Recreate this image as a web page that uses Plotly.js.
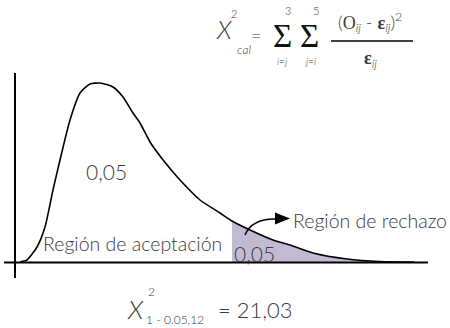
<!DOCTYPE html>
<html>
<head>
<meta charset="utf-8">
<script src="https://cdn.plot.ly/plotly-3.0.1.min.js"></script>
<style>html,body{margin:0;padding:0;background:#fff}#chart{width:450px;height:328px}</style>
</head>
<body>
<div id="chart"></div>
<script>
// density curve (x along the axis, y = height above it)
var curveX = [6, 13, 23, 31, 39, 46, 56, 66, 76, 86, 99, 109, 119, 126, 136, 146, 159, 166, 186, 206, 218, 236, 259, 276, 299, 333, 366, 400];
var curveY = [0, 2, 15, 35, 72, 102, 142, 169, 178, 179, 175, 165, 149, 139, 120, 106, 90, 82, 62, 49, 41, 32, 22, 17, 9, 3, 0.5, 0];
var critX = 218;   // where the rejection region starts
var alphaLabel = "0,05";
var accLabel = "Región de aceptación";
var rejLabel = "Región de rechazo";
var critValue = "21,03";
var critSub = "1 - 0.05,12";

// pixel helpers (axis ranges are chosen so 1 unit = 1 px)
function px(x) { return x - 14; }
function py(y) { return 262 - y; }

var SANS = "Lato, Open Sans, sans-serif";
var SERIF = "Liberation Serif, DejaVu Serif, serif";
var INK = "#3a3a3a";

var tailX = [], tailY = [];
for (var i = 0; i < curveX.length; i++) {
  if (curveX[i] >= critX) { tailX.push(curveX[i]); tailY.push(curveY[i]); }
}

var data = [
  {x: tailX, y: tailY, mode: "lines", type: "scatter", fill: "tozeroy",
   fillcolor: "#c2bad3", line: {width: 0, shape: "spline"}, hoverinfo: "skip"},
  {x: curveX, y: curveY, mode: "lines", type: "scatter",
   line: {color: "#000", width: 1.6, shape: "spline", smoothing: 0.6}, hoverinfo: "skip"}
];

function note(text, x, y, size, family, anchor, color) {
  return {text: text, x: px(x), y: py(y), xref: "x", yref: "y", showarrow: false,
    font: {family: family || SANS, size: size, color: color || INK, weight: 300},
    xanchor: anchor || "center", yanchor: "middle"};
}

function serif(t) { return '<span style="font-family:' + SERIF + '">' + t + '</span>'; }

var annotations = [
  note(alphaLabel, 106, 171, 21),
  note(accLabel, 132, 243, 19.5),
  note(alphaLabel, 254, 253, 21),
  note(rejLabel, 291, 220, 19.5, null, "left"),

  // top formula
  note("<i>X</i>", 224, 29, 25),
  note("2", 234, 13, 11),
  note("<i>cal</i>", 244, 49, 12),
  note("=", 256, 35, 18),
  note("Σ", 282, 36, 33, SERIF, null, "#111"),
  note("3", 288, 10, 11),
  note("<i>i=j</i>", 282, 61, 10),
  note("Σ", 309, 36, 33, SERIF, null, "#111"),
  note("5", 316, 10, 11),
  note("<i>j=i</i>", 310, 61, 10),
  note("(" + serif("O") + "<sub><i>ij</i></sub> - " + serif("<b>ε</b>") + "<sub><i>ij</i></sub>)<sup>2</sup>", 370, 22, 18),
  note(serif("<b>ε</b>") + "<sub><i>ij</i></sub>", 370, 59, 18),

  // bottom formula
  note("<i>X</i>", 135, 309, 26),
  note("2", 151, 291, 12),
  note(critSub, 144, 319, 12, null, "left"),
  note("= " + critValue, 216, 309, 22, null, "left")
];

function line(x0, y0, x1, y1, w) {
  return {type: "line", xref: "x", yref: "y", x0: px(x0), y0: py(y0), x1: px(x1), y1: py(y1),
    line: {color: "#000", width: w}};
}

var shapes = [
  line(15, 73, 15, 278, 2),
  line(4, 262.5, 428, 262.5, 2),
  line(331, 41, 413, 41, 1.3),
  {type: "path", xref: "x", yref: "y", line: {color: "#000", width: 1.5},
   path: "M" + px(245) + "," + py(235) + " Q" + px(252) + "," + py(218) + " " + px(277) + "," + py(219)},
  {type: "path", xref: "x", yref: "y", line: {color: "#000", width: 0}, fillcolor: "#000",
   path: "M" + px(290) + "," + py(218.5) + " L" + px(275) + "," + py(212.5) + " L" + px(275) + "," + py(224.5) + " Z"}
];

var layout = {
  width: 450, height: 328,
  margin: {l: 0, r: 0, t: 0, b: 0},
  paper_bgcolor: "#fff", plot_bgcolor: "#fff",
  showlegend: false,
  xaxis: {range: [px(0), px(450)], visible: false, fixedrange: true},
  yaxis: {range: [py(328), py(0)], visible: false, fixedrange: true},
  annotations: annotations,
  shapes: shapes
};

Plotly.newPlot("chart", data, layout, {displayModeBar: false, staticPlot: true});
</script>
</body>
</html>
